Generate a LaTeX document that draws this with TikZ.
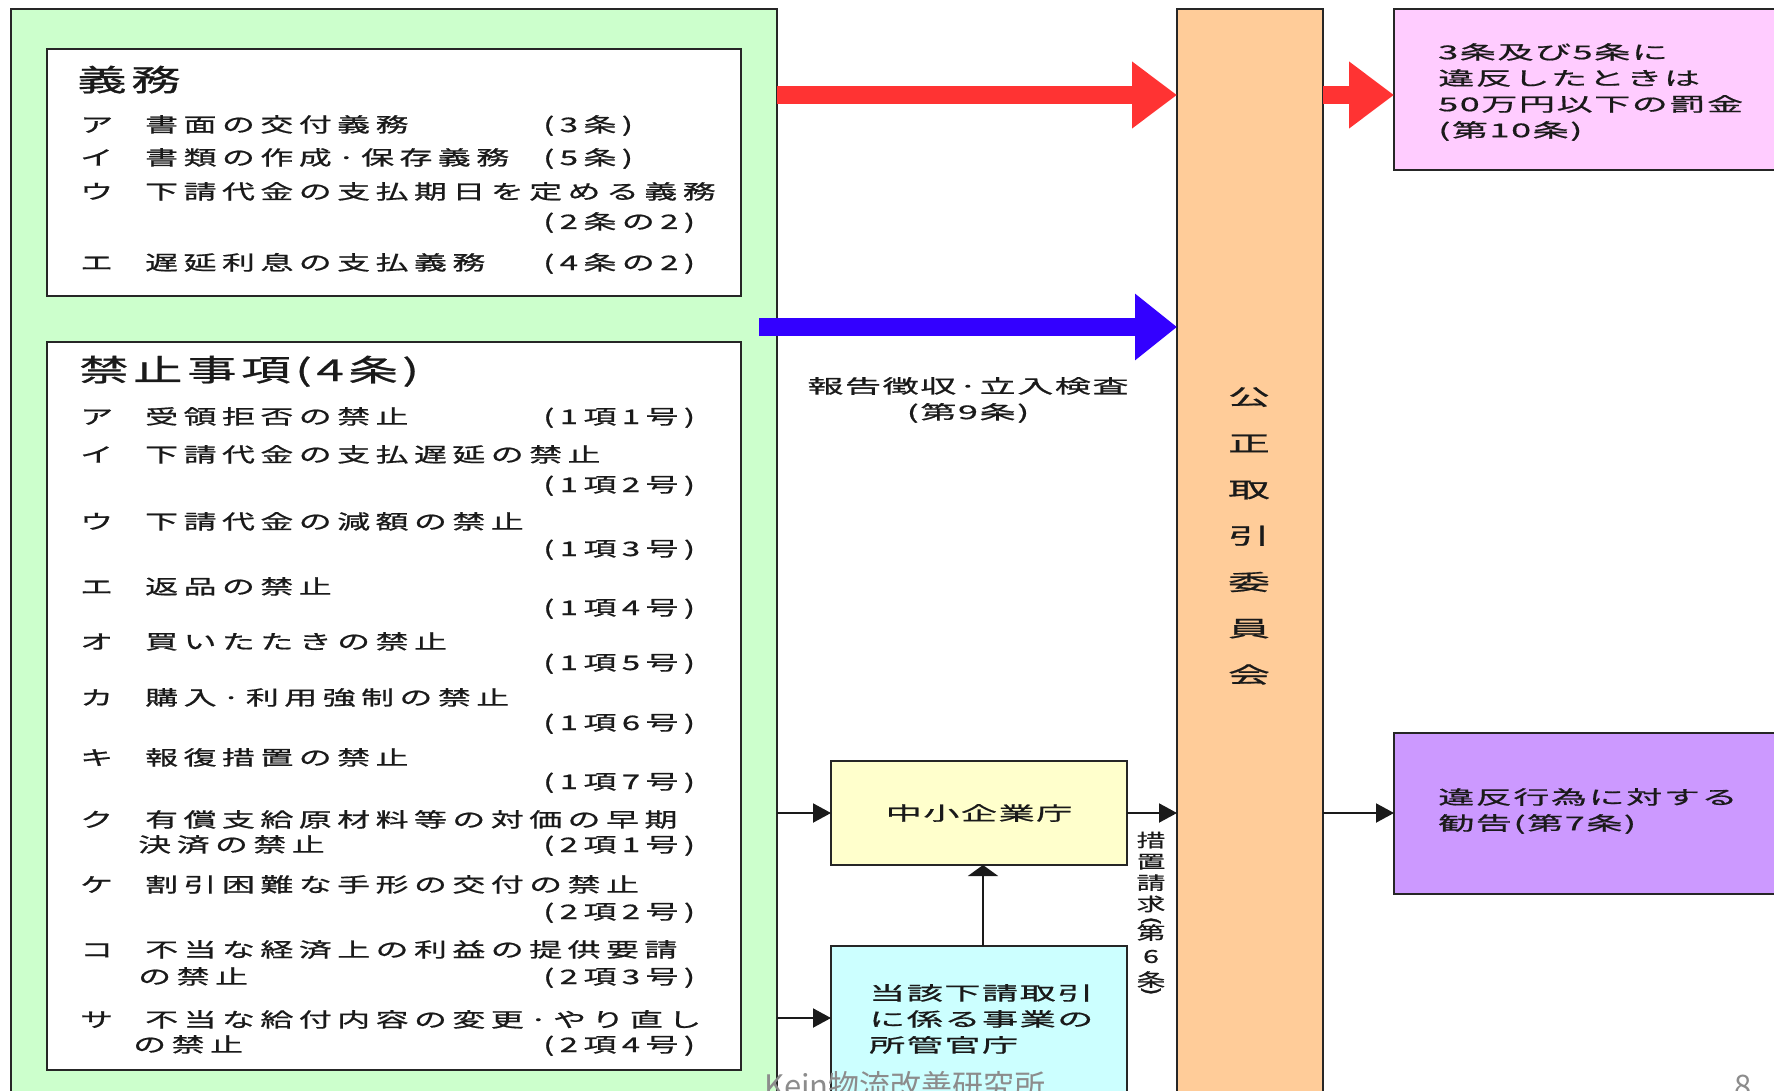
\documentclass[tikz,border=0pt]{standalone}
\usepackage{fontspec}
\usetikzlibrary{arrows.meta}
\newfontfamily\jpl[FakeStretch=1.65,LetterSpace=27,FakeBold=0.8]{Noto Sans CJK JP}
\newfontfamily\jpt[FakeStretch=1.65,LetterSpace=15,FakeBold=0.8]{Noto Sans CJK JP}
\newfontfamily\jpr[FakeStretch=1.9,LetterSpace=8,FakeBold=0.8]{Noto Sans CJK JP}
\newfontfamily\jpv[FakeStretch=1.6,FakeBold=0.6]{Noto Sans CJK JP}
\newfontfamily\jpo[FakeStretch=1.9,FakeBold=0.8]{Noto Sans CJK JP}
\newfontfamily\jpn{Noto Sans CJK JP}
\newfontfamily\dvs[FakeBold=1.5]{DejaVu Sans}
\definecolor{gfill}{HTML}{CCFFCC}
\definecolor{ofill}{HTML}{FFCC99}
\definecolor{pfill}{HTML}{FFCCFF}
\definecolor{vfill}{HTML}{CC99FF}
\definecolor{yfill}{HTML}{FFFFCC}
\definecolor{cfill}{HTML}{CCFFFF}
\definecolor{redA}{HTML}{FF3333}
\definecolor{blueA}{HTML}{3300FF}
\definecolor{ink}{HTML}{1A1A1A}
\definecolor{footgray}{HTML}{8C8C8C}
\newcommand\lrow[3]{\makebox[65pt][l]{#1}\makebox[398pt][l]{#2}#3}
\newcommand\lrowb[3]{\makebox[#1][l]{}\makebox[\dimexpr463pt-#1\relax][l]{#2}#3}
\tikzset{
  panel/.style={draw=black!85, line width=2pt, anchor=north west, inner sep=0pt, outer sep=0pt},
  lt/.style={anchor=base west, inner sep=0pt, text=ink, font=\jpl\fontsize{20}{24}\selectfont},
  ttl/.style={anchor=base west, inner sep=0pt, text=ink, font=\jpt\fontsize{30}{36}\selectfont},
  rt/.style={inner sep=0pt, text=ink, align=left, font=\jpr\fontsize{19}{26}\selectfont},
  vt/.style={inner sep=0pt, text=ink, align=center},
  vparen/.style={inner sep=0pt, text=ink, rotate=-90, font=\dvs\fontsize{22}{24}\selectfont},
  conn/.style={line width=2pt, draw=ink, -{Triangle[length=18pt,width=19pt]}},
  bigred/.style={line width=18pt, draw=redA, -{Triangle[length=45pt,width=64pt]}},
  bigblue/.style={line width=18pt, draw=blueA, -{Triangle[length=42pt,width=64pt]}},
}
\begin{document}
\begin{tikzpicture}[x=1pt,y=-1pt]
\useasboundingbox (0,0) rectangle (1774,1091);
\clip (0,0) rectangle (1774,1091);
\fill[white] (0,0) rectangle (1774,1091);

% panels
\node[panel, fill=gfill, minimum width=766pt, minimum height=1100pt] (green) at (11,9) {};
\node[panel, fill=white, minimum width=694pt, minimum height=247pt] (duty) at (47,49) {};
\node[panel, fill=white, minimum width=694pt, minimum height=728pt] (ban) at (47,342) {};
\node[panel, fill=ofill, minimum width=146pt, minimum height=1100pt] (ftc) at (1177,9) {};
\node[panel, fill=pfill, minimum width=420pt, minimum height=161pt] (fine) at (1394,9) {};
\node[panel, fill=vfill, minimum width=420pt, minimum height=161pt] (rec) at (1394,733) {};
\node[panel, fill=yfill, minimum width=296pt, minimum height=104pt] (sme) at (831,761) {};
\node[panel, fill=cfill, minimum width=296pt, minimum height=200pt] (mini) at (831,946) {};

% duty box text
\node[ttl] (t1) at (77,91) {義務};
\node[lt] (o1) at (80,132) {\lrow{ア}{書面の交付義務}{(3条)}};
\node[lt] (o2) at (80,165) {\lrow{イ}{書類の作成·保存義務}{(5条)}};
\node[lt] (o3) at (80,199) {\lrow{ウ}{下請代金の支払期日を定める義務}{}};
\node[lt] (o4) at (80,229) {\lrow{}{}{(2条の2)}};
\node[lt] (o5) at (80,270) {\lrow{エ}{遅延利息の支払義務}{(4条の2)}};

% prohibition box text
\node[ttl] (t2) at (79,381) {禁止事項(4条)};
\node[lt] (p1) at (80,424) {\lrow{ア}{受領拒否の禁止}{(1項1号)}};
\node[lt] (p2) at (80,462) {\lrow{イ}{下請代金の支払遅延の禁止}{}};
\node[lt] (p3) at (80,492) {\lrow{}{}{(1項2号)}};
\node[lt] (p4) at (80,529) {\lrow{ウ}{下請代金の減額の禁止}{}};
\node[lt] (p5) at (80,556) {\lrow{}{}{(1項3号)}};
\node[lt] (p6) at (80,594) {\lrow{エ}{返品の禁止}{}};
\node[lt] (p7) at (80,615) {\lrow{}{}{(1項4号)}};
\node[lt] (p8) at (80,649) {\lrow{オ}{買いたたきの禁止}{}};
\node[lt] (p9) at (80,670) {\lrow{}{}{(1項5号)}};
\node[lt] (p10) at (80,705) {\lrow{カ}{購入·利用強制の禁止}{}};
\node[lt] (p11) at (80,730) {\lrow{}{}{(1項6号)}};
\node[lt] (p12) at (80,765) {\lrow{キ}{報復措置の禁止}{}};
\node[lt] (p13) at (80,789) {\lrow{}{}{(1項7号)}};
\node[lt] (p14) at (80,827) {\lrow{ク}{有償支給原材料等の対価の早期}{}};
\node[lt] (p15) at (80,852) {\lrowb{58pt}{決済の禁止}{(2項1号)}};
\node[lt] (p16) at (80,892) {\lrow{ケ}{割引困難な手形の交付の禁止}{}};
\node[lt] (p17) at (80,919) {\lrow{}{}{(2項2号)}};
\node[lt] (p18) at (80,957) {\lrow{コ}{不当な経済上の利益の提供要請}{}};
\node[lt] (p19) at (80,984) {\lrowb{58pt}{の禁止}{(2項3号)}};
\node[lt] (p20) at (80,1027) {\lrow{サ}{不当な給付内容の変更·やり直し}{}};
\node[lt] (p21) at (80,1052) {\lrowb{53pt}{の禁止}{(2項4号)}};

% right side texts
\node[rt, align=center] (lab9) at (968,400) {報告徴収·立入検査\\(第9条)};
\node[rt, anchor=north west] (finetxt) at (1438,43) {3条及び5条に\\違反したときは\\50万円以下の罰金\\(第10条)};
\node[rt, anchor=north west] (rectxt) at (1438,788) {違反行為に対する\\勧告(第7条)};
\node[rt, anchor=north west] (minitxt) at (869,984) {当該下請取引\\に係る事業の\\所管官庁};
\node[rt] (smetxt) at (979,813) {中小企業庁};
\node[vt, font=\jpo\fontsize{22}{46.3}\selectfont] (ftctxt) at (1249,536) {公\\正\\取\\引\\委\\員\\会};

% vertical label 措置請求（第6条）
\node[vt, font=\jpv\fontsize{18}{21.3}\selectfont] (reqa) at (1151,872) {措\\置\\請\\求};
\node[vparen] (reqp1) at (1151,921) {(};
\node[vt, font=\jpv\fontsize{18}{23.5}\selectfont] (reqb) at (1151,956) {第\\6\\条};
\node[vparen] (reqp2) at (1151,991) {)};

% footer
\node[anchor=base west, inner sep=0pt, text=footgray, font=\jpn\fontsize{31}{36}\selectfont] (foot) at (764,1097) {Kein物流改善研究所};
\node[anchor=base west, inner sep=0pt, text=footgray, font=\jpn\fontsize{31}{36}\selectfont] (pg) at (1734,1097) {8};

% connectors
\coordinate (r1) at (777,95);
\coordinate (b1) at (759,327);
\coordinate (c2) at (777,1018);
\draw[bigred] (r1) -- (ftc.west |- r1);
\draw[bigred] (ftc.east |- r1) -- (fine.west |- r1);
\draw[bigblue] (b1) -- (ftc.west |- b1);
\draw[conn] (green.east |- sme.west) -- (sme.west);
\draw[conn] (sme.east) -- (ftc.west |- sme.east);
\draw[conn] (ftc.east |- sme.east) -- (rec.west |- sme.east);
\draw[conn] (c2) -- (mini.west |- c2);
\draw[line width=2pt, draw=ink, -{Triangle[length=11pt,width=30pt]}] ([xshift=4pt]mini.north) -- ([xshift=4pt]sme.south);
\end{tikzpicture}
\end{document}
